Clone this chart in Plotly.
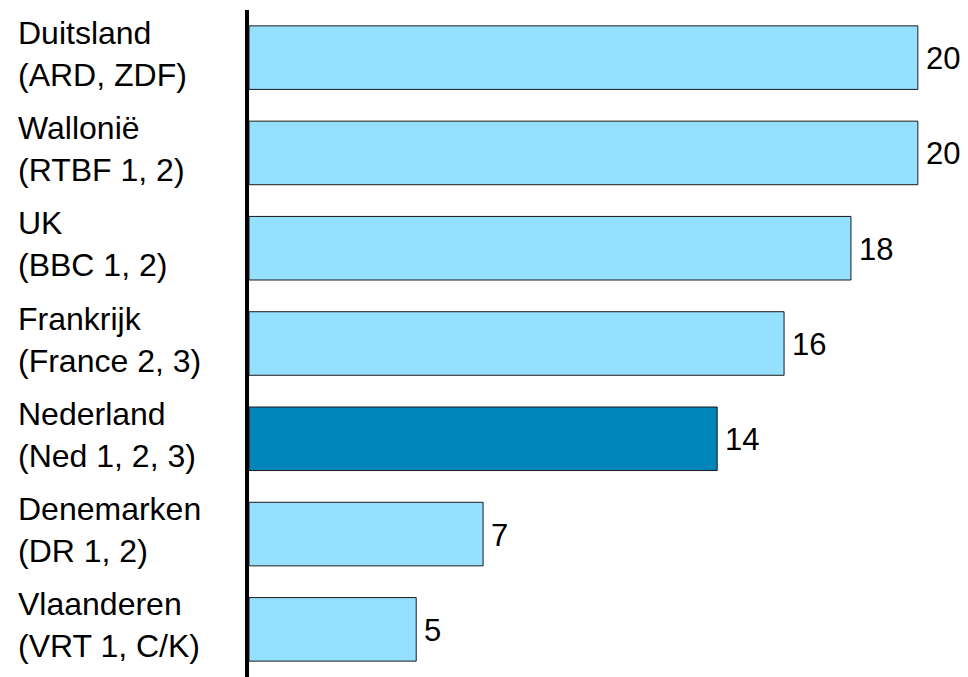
import plotly.graph_objects as go

countries = ["Duitsland", "Wallonië", "UK", "Frankrijk", "Nederland", "Denemarken", "Vlaanderen"]
channels = ["(ARD, ZDF)", "(RTBF 1, 2)", "(BBC 1, 2)", "(France 2, 3)", "(Ned 1, 2, 3)", "(DR 1, 2)", "(VRT 1, C/K)"]
values = [20, 20, 18, 16, 14, 7, 5]
highlight = "Nederland"

LIGHT = "#96E0FF"
DARK = "#0085BB"
colors = [DARK if c == highlight else LIGHT for c in countries]

# page has an 8px body margin; figure sits at (8, 8)
OFF = 8
W, H = 968 - OFF, 677 - OFF
ML, MR, MT, MB = 249 - OFF, 0, 10 - OFF, 0
XMAX = 21.5
FONT = "Liberation Sans, Arial, sans-serif"

fig = go.Figure(go.Bar(
    x=values, y=countries, orientation="h",
    marker=dict(color=colors, line=dict(color="#1a1a1a", width=1)),
    hoverinfo="skip",
))

annotations = []
plot_w = W - ML - MR
for c, ch, v in zip(countries, channels, values):
    annotations.append(dict(
        x=(16 - 249) / plot_w, xref="paper", y=c, yref="y",
        text=f"{c}<br>{ch}", showarrow=False, xanchor="left", yanchor="middle",
        align="left", yshift=4, font=dict(family=FONT, size=32, color="#000"),
    ))
    annotations.append(dict(
        x=v, xref="x", y=c, yref="y", text=str(v), showarrow=False,
        xanchor="left", yanchor="middle", xshift=6, yshift=-1,
        font=dict(family=FONT, size=31, color="#000"),
    ))

fig.update_layout(
    width=W, height=H,
    margin=dict(l=ML, r=MR, t=MT, b=MB),
    paper_bgcolor="white", plot_bgcolor="white",
    bargap=0.333,
    showlegend=False,
    xaxis=dict(range=[0, XMAX * (W - ML) / (968 - 249)], visible=False, fixedrange=True),
    yaxis=dict(categoryorder="array", categoryarray=countries, autorange="reversed",
               showticklabels=False, ticks="", showgrid=False, zeroline=False,
               showline=True, linecolor="#000", linewidth=4, fixedrange=True),
    annotations=annotations,
)

fig.write_html("out.html")
